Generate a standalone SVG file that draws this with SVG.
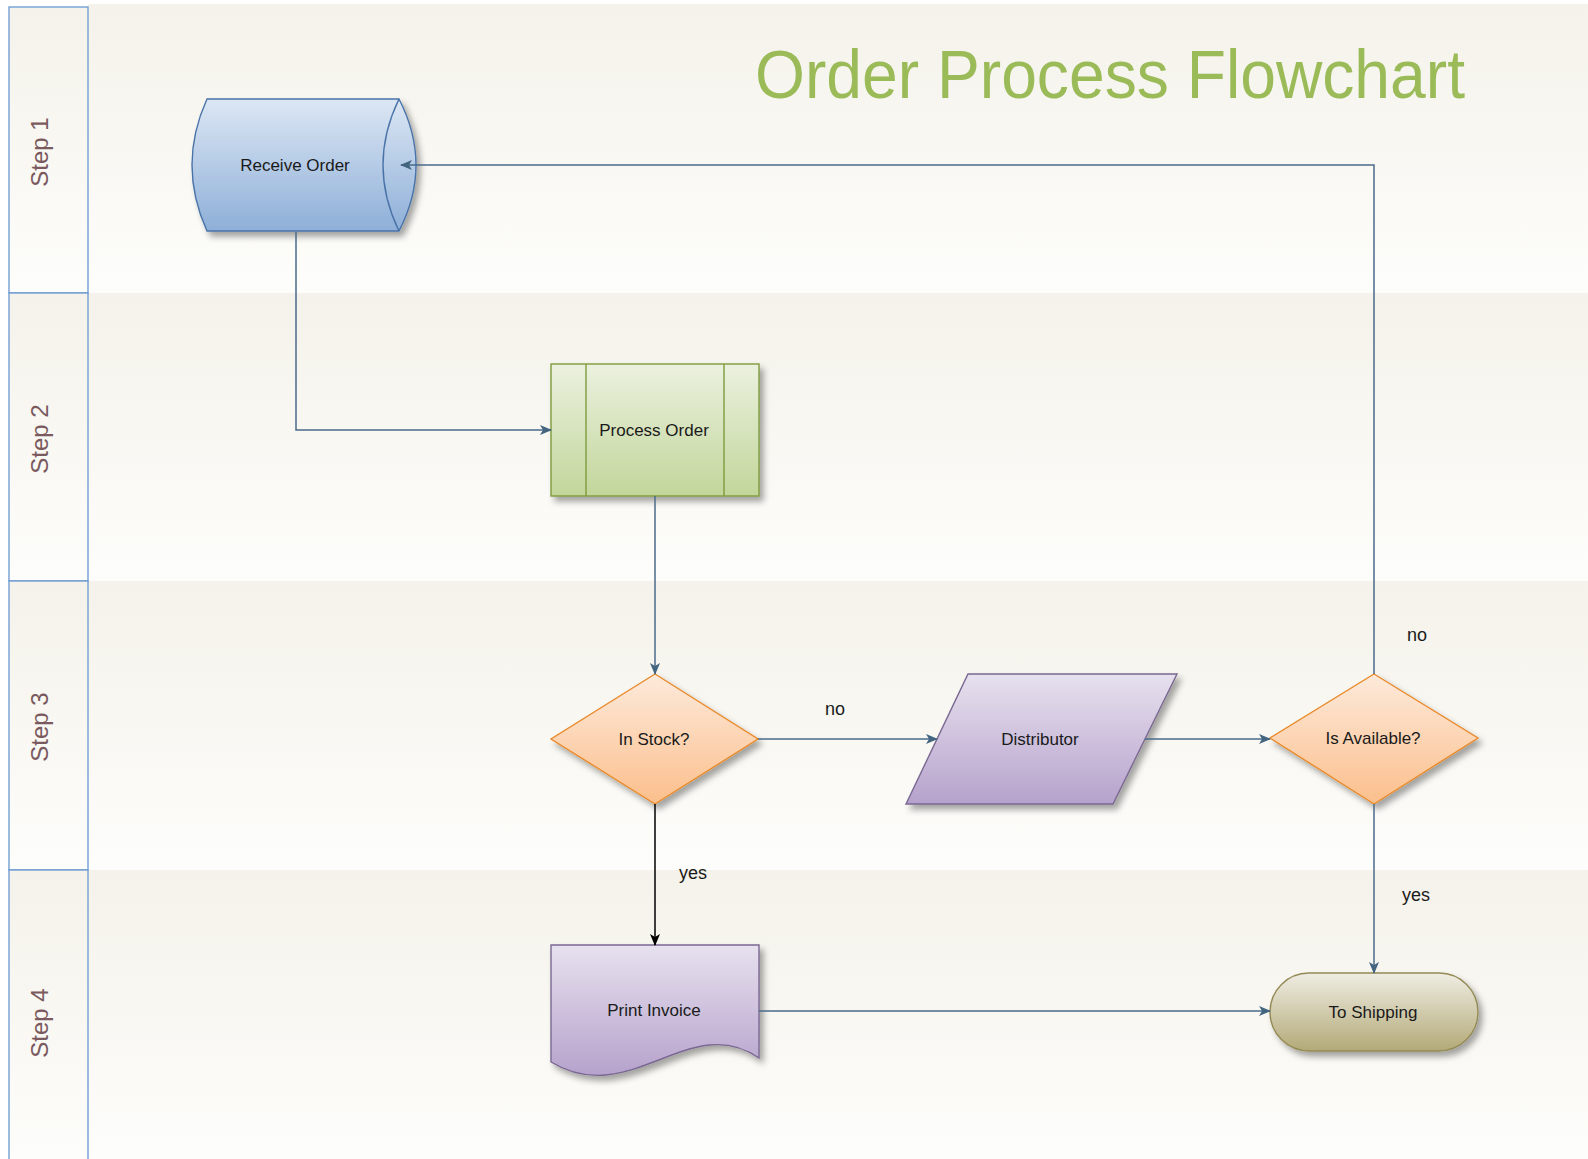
<svg xmlns="http://www.w3.org/2000/svg" width="1588" height="1159" viewBox="0 0 1588 1159">
<defs>
<linearGradient id="gLane" x1="0" y1="0" x2="0" y2="1"><stop offset="0" stop-color="#f4f2ea"/><stop offset="1" stop-color="#fdfdfb"/></linearGradient>
<linearGradient id="gBlue" x1="0" y1="0" x2="0" y2="1"><stop offset="0" stop-color="#dce7f4"/><stop offset="1" stop-color="#8eafd8"/></linearGradient>
<linearGradient id="gGreen" x1="0" y1="0" x2="0" y2="1"><stop offset="0" stop-color="#ebf1df"/><stop offset="1" stop-color="#c2d69a"/></linearGradient>
<linearGradient id="gOrange" x1="0" y1="0" x2="0" y2="1"><stop offset="0" stop-color="#fdeadb"/><stop offset="1" stop-color="#fbbf8c"/></linearGradient>
<linearGradient id="gPurple" x1="0" y1="0" x2="0" y2="1"><stop offset="0" stop-color="#e7e1ee"/><stop offset="1" stop-color="#b6a2cc"/></linearGradient>
<linearGradient id="gTan" x1="0" y1="0" x2="0" y2="1"><stop offset="0" stop-color="#efede3"/><stop offset="1" stop-color="#b3a977"/></linearGradient>
<filter id="shadow" x="-20%" y="-20%" width="150%" height="150%"><feDropShadow dx="4" dy="5" stdDeviation="3" flood-color="#000" flood-opacity="0.35"/></filter>
<marker id="arr" viewBox="0 0 12 10" refX="11" refY="5" markerWidth="12" markerHeight="10" markerUnits="userSpaceOnUse" orient="auto"><path d="M0,0 L12,5 L0,10 L3,5 Z" fill="#44657f"/></marker>
<marker id="arrBlack" viewBox="0 0 12 10" refX="11" refY="5" markerWidth="12" markerHeight="10" markerUnits="userSpaceOnUse" orient="auto"><path d="M0,0 L12,5 L0,10 L3,5 Z" fill="#000"/></marker>
</defs>
<style>
.lane{fill:url(#gLane);}
.hdr{fill:url(#gLane);stroke:#6a98d2;stroke-width:1.3;}
.step{font-family:"Liberation Sans",Arial,sans-serif;font-size:24px;fill:#7a5a5e;text-anchor:middle;}
.lbl{font-family:"Liberation Sans",Arial,sans-serif;font-size:17px;fill:#1a1a1a;text-anchor:middle;}
.clbl{font-family:"Liberation Sans",Arial,sans-serif;font-size:18px;fill:#1a1a1a;text-anchor:middle;}
.con{fill:none;stroke:#4a6b8a;stroke-width:1.5;marker-end:url(#arr);}
.conb{fill:none;stroke:#000;stroke-width:1.5;marker-end:url(#arrBlack);}
</style>
<rect width="1588" height="1159" fill="#ffffff"/>
<g id="lanes">
<rect class="lane" x="88" y="4" width="1500" height="289"/>
<rect class="lane" x="88" y="293" width="1500" height="288"/>
<rect class="lane" x="88" y="581" width="1500" height="289"/>
<rect class="lane" x="88" y="870" width="1500" height="289"/>
<rect class="hdr" x="9" y="7" width="79" height="286"/>
<rect class="hdr" x="9" y="293" width="79" height="288"/>
<rect class="hdr" x="9" y="581" width="79" height="289"/>
<rect class="hdr" x="9" y="870" width="79" height="295"/>
<text class="step" transform="translate(48,152) rotate(-90)">Step 1</text>
<text class="step" transform="translate(48,439) rotate(-90)">Step 2</text>
<text class="step" transform="translate(48,727) rotate(-90)">Step 3</text>
<text class="step" transform="translate(48,1023) rotate(-90)">Step 4</text>
</g>
<text id="title" x="1465" y="98" font-family="'Liberation Sans',Arial,sans-serif" font-size="68" fill="#9bbb59" text-anchor="end" textLength="710" lengthAdjust="spacingAndGlyphs">Order Process Flowchart</text>
<g id="receive-order">
<path d="M207,99 L399,99 Q433,165 399,231 L207,231 Q177,165 207,99 Z" fill="url(#gBlue)" stroke="#4a73a8" stroke-width="1.4" filter="url(#shadow)"/>
<path d="M399,99 Q367,165 399,231" fill="none" stroke="#4a73a8" stroke-width="1.4"/>
<text class="lbl" x="295" y="171">Receive Order</text>
</g>
<g id="process-order">
<rect x="551" y="364" width="208" height="132" fill="url(#gGreen)" stroke="#7e9b3e" stroke-width="1.4" filter="url(#shadow)"/>
<line x1="586" y1="364" x2="586" y2="496" stroke="#7e9b3e" stroke-width="1.4"/>
<line x1="724" y1="364" x2="724" y2="496" stroke="#7e9b3e" stroke-width="1.4"/>
<text class="lbl" x="654" y="436">Process Order</text>
</g>
<g id="in-stock">
<path d="M655,674 L758,739 L655,804 L551,739 Z" fill="url(#gOrange)" stroke="#e98a2c" stroke-width="1.4" filter="url(#shadow)"/>
<text class="lbl" x="654" y="745">In Stock?</text>
</g>
<g id="distributor">
<path d="M968,674 L1177,674 L1113,804 L906,804 Z" fill="url(#gPurple)" stroke="#7a6892" stroke-width="1.4" filter="url(#shadow)"/>
<text class="lbl" x="1040" y="745">Distributor</text>
</g>
<g id="is-available">
<path d="M1374,674 L1478,738 L1374,804 L1270,738 Z" fill="url(#gOrange)" stroke="#e98a2c" stroke-width="1.4" filter="url(#shadow)"/>
<text class="lbl" x="1373" y="744">Is Available?</text>
</g>
<g id="print-invoice">
<path d="M551,945 L759,945 L759,1058 C690,1010 630,1110 551,1062 Z" fill="url(#gPurple)" stroke="#7a6892" stroke-width="1.4" filter="url(#shadow)"/>
<text class="lbl" x="654" y="1016">Print Invoice</text>
</g>
<g id="to-shipping">
<rect x="1270" y="973" width="208" height="78" rx="39" ry="39" fill="url(#gTan)" stroke="#948a55" stroke-width="1.4" filter="url(#shadow)"/>
<text class="lbl" x="1373" y="1018">To Shipping</text>
</g>
<g id="connectors">
<path class="con" d="M296,232 V430 H551"/>
<path class="con" d="M655,496 V674"/>
<path class="con" d="M758,739 H937"/>
<path class="con" d="M1145,739 H1270"/>
<path class="con" d="M1374,674 V165 H401"/>
<path class="con" d="M1374,804 V973"/>
<path class="conb" d="M655,804 V945"/>
<path class="con" d="M759,1011 H1270"/>
<text class="clbl" x="835" y="715">no</text>
<text class="clbl" x="1417" y="641">no</text>
<text class="clbl" x="693" y="879">yes</text>
<text class="clbl" x="1416" y="901">yes</text>
</g>
</svg>
